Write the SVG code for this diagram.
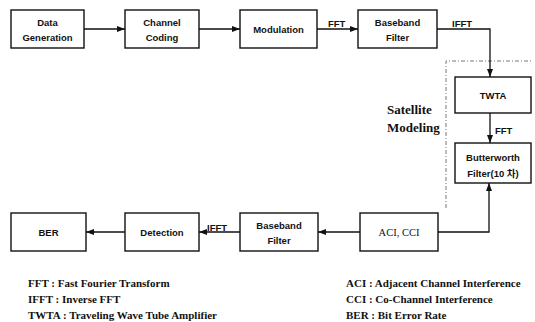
<svg xmlns="http://www.w3.org/2000/svg" width="535" height="322" viewBox="0 0 535 322">
  <style>
    .box { fill: #fff; stroke: #111; stroke-width: 1.4; }
    .lbl { font-family: "Liberation Sans", Arial, "Noto Sans CJK KR", sans-serif; font-weight: bold; font-size: 9.5px; fill: #111; text-anchor: middle; }
    .tag { font-family: "Liberation Sans", Arial, sans-serif; font-weight: bold; font-size: 9.5px; fill: #111; }
    .serif { font-family: "Liberation Serif", "Times New Roman", serif; font-weight: bold; fill: #111; }
    .plain { font-family: "Liberation Serif", "Times New Roman", serif; font-weight: normal; font-size: 10.5px; fill: #111; text-anchor: middle; }
    .wire { fill: none; stroke: #111; stroke-width: 1.3; }
    .dash { fill: none; stroke: #555; stroke-width: 0.8; stroke-dasharray: 4 2 1 2; }
  </style>
  <defs>
    <marker id="arr" viewBox="0 0 8 6" refX="8" refY="3" markerWidth="8" markerHeight="6" markerUnits="userSpaceOnUse" orient="auto">
      <path d="M0,0 L8,3 L0,6 Z" fill="#111"/>
    </marker>
  </defs>

  <rect width="535" height="322" fill="#fff"/>

  <!-- satellite modeling region -->
  <g id="satellite-region">
    <path class="dash" d="M446,208 L446,61 L533,61"/>
    <text class="serif" x="387" y="114" font-size="13">Satellite</text>
    <text class="serif" x="387" y="132" font-size="13">Modeling</text>
  </g>

  <!-- connectors -->
  <g id="connectors">
    <line class="wire" x1="84" y1="29" x2="125" y2="29" marker-end="url(#arr)"/>
    <line class="wire" x1="199" y1="29" x2="240" y2="29" marker-end="url(#arr)"/>
    <line class="wire" x1="317" y1="29" x2="358" y2="29" marker-end="url(#arr)"/>
    <path class="wire" d="M437,29 L490,29 L490,77" marker-end="url(#arr)"/>
    <line class="wire" x1="490" y1="113" x2="490" y2="143" marker-end="url(#arr)"/>
    <path class="wire" d="M438,232 L489,232 L489,183" marker-end="url(#arr)"/>
    <line class="wire" x1="360" y1="232" x2="318" y2="232" marker-end="url(#arr)"/>
    <line class="wire" x1="240" y1="232" x2="199" y2="232" marker-end="url(#arr)"/>
    <line class="wire" x1="125" y1="232" x2="86" y2="232" marker-end="url(#arr)"/>
    <text class="tag" x="328" y="27">FFT</text>
    <text class="tag" x="452" y="27">IFFT</text>
    <text class="tag" x="495" y="134">FFT</text>
    <text class="tag" x="207" y="231">IFFT</text>
  </g>

  <g id="data-generation">
    <rect class="box" x="11" y="10" width="73" height="38"/>
    <text class="lbl" x="47.5" y="26">Data</text>
    <text class="lbl" x="47.5" y="41">Generation</text>
  </g>
  <g id="channel-coding">
    <rect class="box" x="125" y="10" width="74" height="38"/>
    <text class="lbl" x="162" y="26">Channel</text>
    <text class="lbl" x="162" y="41">Coding</text>
  </g>
  <g id="modulation">
    <rect class="box" x="240" y="10" width="77" height="38"/>
    <text class="lbl" x="278.5" y="33">Modulation</text>
  </g>
  <g id="baseband-filter-tx">
    <rect class="box" x="358" y="10" width="79" height="38"/>
    <text class="lbl" x="397.5" y="26">Baseband</text>
    <text class="lbl" x="397.5" y="41">Filter</text>
  </g>
  <g id="twta">
    <rect class="box" x="455" y="77" width="76" height="36"/>
    <text class="lbl" x="493" y="98.5">TWTA</text>
  </g>
  <g id="butterworth-filter">
    <rect class="box" x="455" y="143" width="76" height="40"/>
    <text class="lbl" x="493" y="161">Butterworth</text>
    <text class="lbl" x="493" y="177">Filter(10 차)</text>
  </g>
  <g id="aci-cci">
    <rect class="box" x="360" y="213" width="78" height="38"/>
    <text class="plain" x="399" y="236">ACI, CCI</text>
  </g>
  <g id="baseband-filter-rx">
    <rect class="box" x="240" y="213" width="78" height="38"/>
    <text class="lbl" x="279" y="229">Baseband</text>
    <text class="lbl" x="279" y="244">Filter</text>
  </g>
  <g id="detection">
    <rect class="box" x="125" y="213" width="74" height="38"/>
    <text class="lbl" x="162" y="235.5">Detection</text>
  </g>
  <g id="ber">
    <rect class="box" x="11" y="213" width="75" height="38"/>
    <text class="lbl" x="48.5" y="235.5">BER</text>
  </g>

  <!-- legend -->
  <g id="legend" class="serif" font-size="11">
    <text x="28" y="287">FFT : Fast Fourier Transform</text>
    <text x="28" y="303">IFFT : Inverse FFT</text>
    <text x="28" y="319">TWTA : Traveling Wave Tube Amplifier</text>
    <text x="346" y="287">ACI : Adjacent Channel Interference</text>
    <text x="346" y="303">CCI : Co-Channel Interference</text>
    <text x="346" y="319">BER : Bit Error Rate</text>
  </g>
</svg>
